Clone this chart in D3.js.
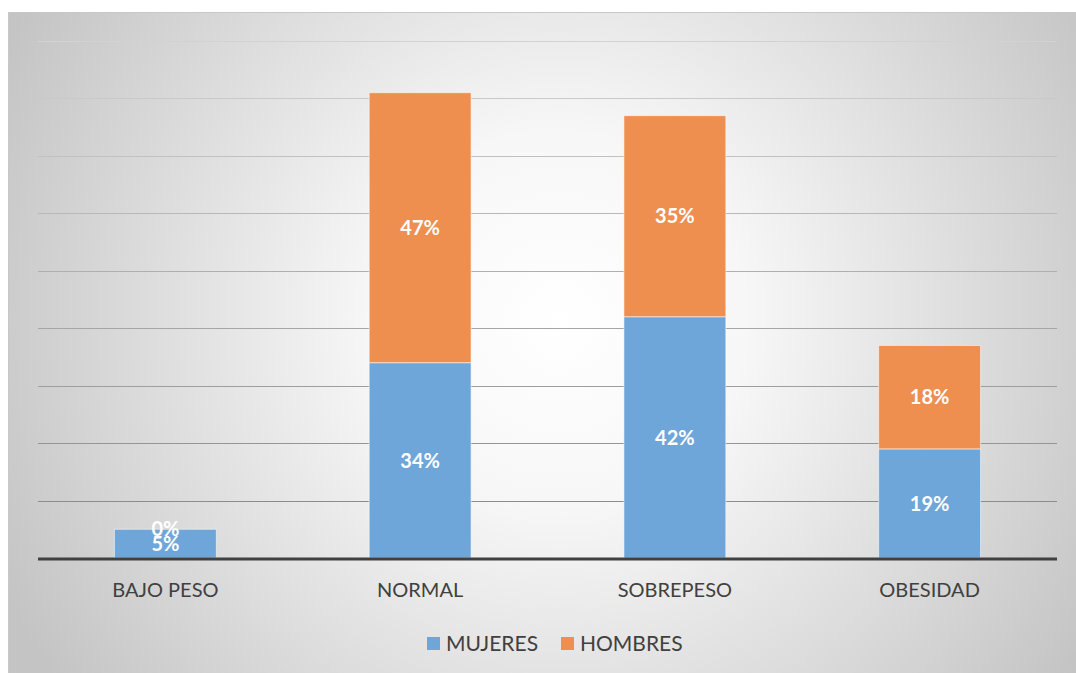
<!DOCTYPE html>
<html>
<head>
<meta charset="utf-8">
<script src="https://cdn.jsdelivr.net/npm/d3@7"></script>
<style>
  body { margin: 0; background: #fff; }
  svg { display: block; }
</style>
</head>
<body>
<svg id="chart"></svg>
<script>
var categories = ["BAJO PESO", "NORMAL", "SOBREPESO", "OBESIDAD"];
var mujeres = [5, 34, 42, 19];
var hombres = [0, 47, 35, 18];
var seriesNames = ["MUJERES", "HOMBRES"];
var gridTicks = [10, 20, 30, 40, 50, 60, 70, 80, 90];

function drawChart() {
    var width = 1076, height = 673;
    var svg = d3.select("#chart").attr("width", width).attr("height", height);
    var left = 38, right = 1057, top = 41, bottom = 558;
    var font = "Lato, 'Open Sans', sans-serif";

    var defs = svg.append("defs");
    var grad = defs.append("radialGradient")
        .attr("id", "bg")
        .attr("gradientUnits", "userSpaceOnUse")
        .attr("cx", 560).attr("cy", 320).attr("r", 620);
    grad.append("stop").attr("offset", "0%").attr("stop-color", "#ffffff");
    grad.append("stop").attr("offset", "30%").attr("stop-color", "#f7f7f7");
    grad.append("stop").attr("offset", "100%").attr("stop-color", "#c4c4c4");

    svg.append("rect")
        .attr("x", 8.5).attr("y", 12.5)
        .attr("width", width - 8).attr("height", height - 12)
        .attr("fill", "url(#bg)")
        .attr("stroke", "#c8c8c8");

    var x = d3.scaleBand()
        .domain(categories)
        .range([left, right])
        .paddingInner(0.6)
        .paddingOuter(0.3);

    var y = d3.scaleLinear().domain([0, 90]).range([bottom, top]);

    var gridColor = d3.scaleLinear().domain([10, 90]).range(["#8c8c8c", "#d2d2d2"]);

    svg.append("g").selectAll("line")
        .data(gridTicks)
        .enter().append("line")
        .attr("x1", left).attr("x2", right)
        .attr("y1", function(d) { return Math.round(y(d)) + 0.5; })
        .attr("y2", function(d) { return Math.round(y(d)) + 0.5; })
        .attr("stroke", function(d) { return gridColor(d); })
        .attr("stroke-width", 1.2);

    var rows = categories.map(function(c, i) {
        return { cat: c, MUJERES: mujeres[i], HOMBRES: hombres[i] };
    });
    var stacked = d3.stack().keys(seriesNames)(rows);
    var colors = { MUJERES: "#6fa6d9", HOMBRES: "#ee8e4f" };

    var layers = svg.append("g").selectAll("g")
        .data(stacked)
        .enter().append("g")
        .attr("fill", function(d) { return colors[d.key]; });

    layers.selectAll("rect")
        .data(function(d) { return d; })
        .enter().filter(function(d) { return d[1] - d[0] > 0; })
        .append("rect")
        .attr("x", function(d) { return x(d.data.cat); })
        .attr("y", function(d) { return y(d[1]); })
        .attr("width", x.bandwidth())
        .attr("height", function(d) { return y(d[0]) - y(d[1]); })
        .attr("stroke", "rgba(255,255,255,0.55)")
        .attr("stroke-width", 1);

    // baseline
    svg.append("line")
        .attr("x1", left).attr("x2", right)
        .attr("y1", bottom + 1).attr("y2", bottom + 1)
        .attr("stroke", "#404040").attr("stroke-width", 3);

    // data labels
    stacked.forEach(function(layer) {
        svg.append("g").selectAll("text")
            .data(layer)
            .enter().append("text")
            .attr("x", function(d) { return x(d.data.cat) + x.bandwidth() / 2; })
            .attr("y", function(d) { return (y(d[0]) + y(d[1])) / 2; })
            .attr("dy", "0.36em")
            .attr("text-anchor", "middle")
            .attr("fill", "#ffffff")
            .attr("font-family", font)
            .attr("font-weight", "bold")
            .attr("font-size", 20)
            .text(function(d) { return (d[1] - d[0]) + "%"; });
    });

    // category labels
    svg.append("g").selectAll("text")
        .data(categories)
        .enter().append("text")
        .attr("x", function(d) { return x(d) + x.bandwidth() / 2; })
        .attr("y", 590)
        .attr("dy", "0.36em")
        .attr("text-anchor", "middle")
        .attr("fill", "#404040")
        .attr("font-family", font)
        .attr("font-size", 20)
        .text(function(d) { return d; });

    // legend
    var legendX = [427, 561];
    var leg = svg.append("g").selectAll("g")
        .data(seriesNames)
        .enter().append("g")
        .attr("transform", function(d, i) { return "translate(" + legendX[i] + ",643)"; });
    leg.append("rect")
        .attr("x", 0).attr("y", -6)
        .attr("width", 13).attr("height", 13)
        .attr("fill", function(d) { return colors[d]; });
    leg.append("text")
        .attr("x", 19).attr("y", 0)
        .attr("dy", "0.36em")
        .attr("fill", "#404040")
        .attr("font-family", font)
        .attr("font-size", 21)
        .text(function(d) { return d; });
}

drawChart();
</script>
</body>
</html>
